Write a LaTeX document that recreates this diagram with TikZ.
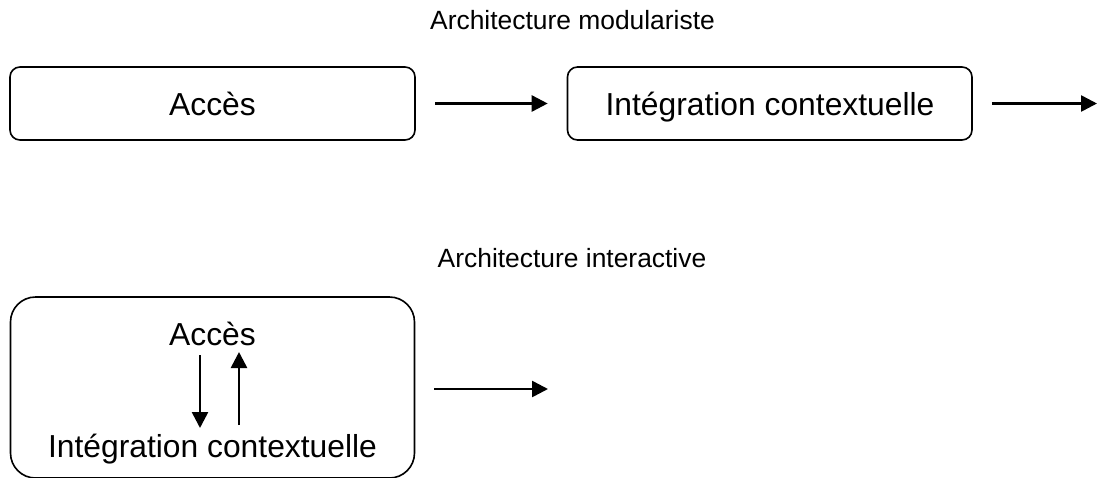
\documentclass[tikz,border=0pt]{standalone}
\usepackage{fontspec}
\setmainfont{Liberation Sans}
\usetikzlibrary{arrows.meta}
\tikzset{
  box/.style={draw=black, line width=1.6pt, rounded corners=10pt, inner sep=0pt, fill=white},
  bigbox/.style={draw=black, line width=1.6pt, rounded corners=25pt, inner sep=0pt},
  lbl/.style={inner sep=0pt, anchor=base, font=\fontsize{31.8}{38}\selectfont},
  ttl/.style={inner sep=0pt, anchor=base, font=\fontsize{26.4}{31}\selectfont},
  arr/.style={line width=2.6pt, -{Triangle[length=16pt,width=16pt]}},
}
\begin{document}
\begin{tikzpicture}[x=1pt,y=-1pt]
\useasboundingbox (0,0) rectangle (1098,477);
\fill[white] (0,0) rectangle (1098,477);
\clip (0,0) rectangle (1098,477);
% titles
\node[ttl] (t1) at (572.5,29.5) {Architecture modulariste};
\node[ttl] (t2) at (572,267) {Architecture interactive};
% top row
\node[box, minimum width=405pt, minimum height=73pt] (b1) at (212.5,103.5) {};
\node[box, minimum width=404.5pt, minimum height=73pt] (b2) at (769.75,103.5) {};
\node[lbl] (l1) at (212.5,115) {Accès};
\node[lbl] (l2) at (770,115) {Intégration contextuelle};
\coordinate (o2) at (1097,103.5);
\draw[arr, shorten <=19.5pt, shorten >=19pt] (b1.east) -- (b2.west);
\draw[arr, shorten <=19pt] (b2.east) -- (o2);
% bottom
\node[bigbox, minimum width=404pt, minimum height=181pt] (b3) at (212.5,387.5) {};
\node[lbl] (a3) at (212.5,345) {Accès};
\node[lbl] (i3) at (212.5,457) {Intégration contextuelle};
\coordinate (dA) at (200,355);
\coordinate (dB) at (200,428);
\coordinate (uA) at (239,425);
\coordinate (uB) at (239,352);
\draw[arr] (dA) -- (dB);
\draw[arr] (uA) -- (uB);
\coordinate (s3) at (434,389);
\coordinate (o3) at (548,389);
\draw[arr] (s3) -- (o3);
\end{tikzpicture}
\end{document}
